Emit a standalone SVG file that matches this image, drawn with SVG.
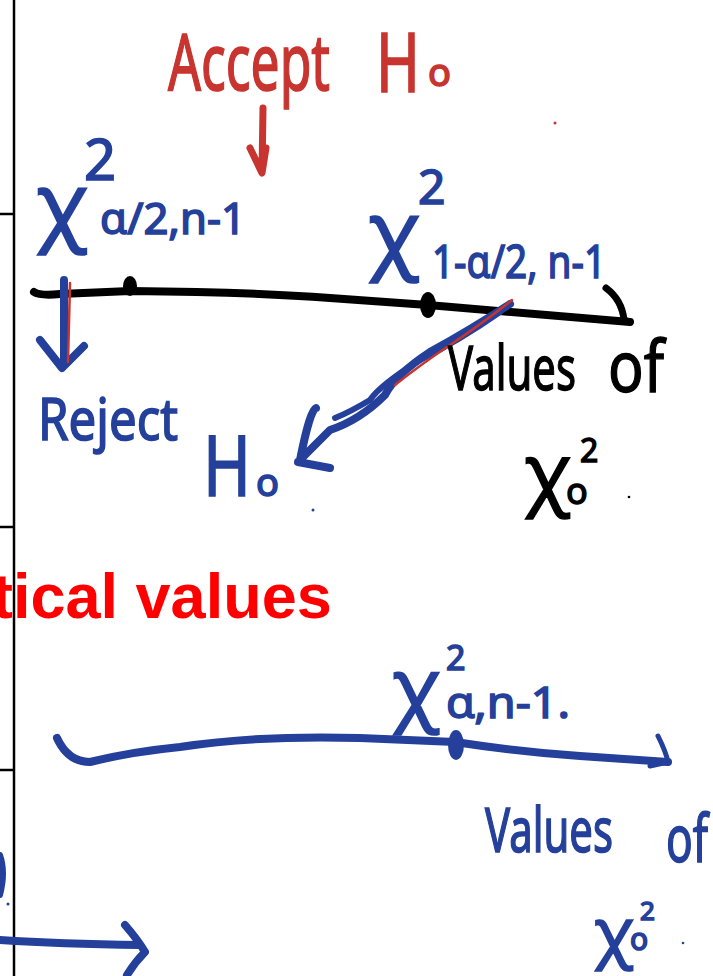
<svg xmlns="http://www.w3.org/2000/svg" width="713" height="976" viewBox="0 0 713 976">
<style>
.frame{stroke:#000;stroke-width:2.5;fill:none}
.blue{fill:#24409a;stroke:#24409a;stroke-width:1.6}
.red{fill:#c8342f;stroke:#c8342f;stroke-width:1.6}
.blk{fill:#000;stroke:#000;stroke-width:1.4}
.hw{font-family:"Noto Sans","DejaVu Sans",sans-serif}
.sb{stroke:#24409a;fill:none;stroke-linecap:round;stroke-linejoin:round}
.sr{stroke:#c8342f;fill:none;stroke-linecap:round;stroke-linejoin:round}
.sk{stroke:#000;fill:none;stroke-linecap:round;stroke-linejoin:round}
</style>
<rect width="713" height="976" fill="#fff"/>
<g id="frame">
<line class="frame" x1="14" y1="0" x2="14" y2="976"/>
<line class="frame" x1="0" y1="214" x2="14" y2="214"/>
<line class="frame" x1="0" y1="527" x2="14" y2="527"/>
<line class="frame" x1="0" y1="770" x2="14" y2="770"/>
</g>
<g id="accept">
<text class="hw red" x="168" y="90" font-size="78" textLength="162" lengthAdjust="spacingAndGlyphs">Accept</text>
<text class="hw red" x="376" y="92" font-size="82" textLength="44" lengthAdjust="spacingAndGlyphs">H</text>
<text class="hw red" x="428" y="86" font-size="38">o</text>
<path class="sr" stroke-width="7" d="M263 108 L262 172 M250 148 L262 173 L266 148"/>
<circle cx="555" cy="123" r="1.5" fill="#c8342f"/>
</g>
<g id="upper-axis">
<path class="sk" stroke-width="8" d="M34 292 Q40 296 60 294 L130 291 Q250 292 330 298 L428 305 L630 322"/>
<path class="sk" stroke-width="7" d="M606 288 Q622 300 624 320 L630 322"/>
<ellipse cx="130" cy="286" rx="7" ry="10" fill="#000"/>
<ellipse cx="428" cy="305" rx="8" ry="13" fill="#000"/>
</g>
<g id="crit-low">
<text class="hw blue" x="36" y="234" font-size="86">χ</text>
<text class="hw blue" x="84" y="180" font-size="56">2</text>
<text class="hw blue" x="100" y="234" font-size="44" textLength="146" lengthAdjust="spacingAndGlyphs">α/2,n-1</text>
</g>
<g id="crit-high">
<text class="hw blue" x="368" y="262" font-size="86">χ</text>
<text class="hw blue" x="418" y="204" font-size="48">2</text>
<text class="hw blue" x="432" y="278" font-size="46" textLength="174" lengthAdjust="spacingAndGlyphs">1-α/2, n-1</text>
</g>
<g id="reject">
<path class="sb" stroke-width="8" d="M64 280 L64 362 M40 340 L62 368 L84 346"/>
<path class="sr" stroke-width="2.5" d="M70 283 L68 362"/>
<text class="hw blue" x="38" y="440" font-size="58" textLength="140" lengthAdjust="spacingAndGlyphs">Reject</text>
<text class="hw blue" x="203" y="496" font-size="84" textLength="48" lengthAdjust="spacingAndGlyphs">H</text>
<text class="hw blue" x="256" y="496" font-size="38">o</text>
<circle cx="313" cy="510" r="1.5" fill="#24409a"/>
<path class="sb" stroke-width="8" d="M510 304 Q470 330 430 352 Q395 375 385 395 Q360 420 330 430 L300 460 M300 460 Q310 410 316 408 M298 462 L330 468"/>
<path class="sb" stroke-width="6" d="M500 312 Q460 340 420 360 Q380 385 370 400 Q350 412 335 418"/>
<path class="sr" stroke-width="2.5" d="M512 300 Q480 325 450 345 Q420 365 395 385"/>
</g>
<g id="values-upper">
<text class="hw blk" x="448" y="390" font-size="62" textLength="128" lengthAdjust="spacingAndGlyphs">Values</text>
<text class="hw blk" x="608" y="392" font-size="72" textLength="56" lengthAdjust="spacingAndGlyphs">of</text>
<text class="hw blk" x="524" y="500" font-size="78">χ</text>
<text class="hw blk" x="566" y="504" font-size="36">o</text>
<text class="hw blk" x="580" y="462" font-size="32">2</text>
<circle cx="629" cy="497" r="1.3" fill="#000"/>
</g>
<g id="title">
<text x="-8" y="618" font-family="Liberation Sans, Arial, sans-serif" font-weight="bold" font-size="63" fill="#ff0000">tical values</text>
</g>
<g id="lower-axis">
<path class="sb" stroke-width="8" d="M57 738 Q68 762 90 762 Q130 752 180 747 Q260 735 360 738 L455 742 Q520 752 580 756 L668 762"/>
<path class="sb" stroke-width="5" d="M658 736 Q666 752 668 762 L650 766"/>
<ellipse cx="456" cy="745" rx="8" ry="15" fill="#24409a"/>
<text class="hw blue" x="392" y="716" font-size="80">χ</text>
<text class="hw blue" x="446" y="670" font-size="34">2</text>
<text class="hw blue" x="446" y="718" font-size="44" textLength="124" lengthAdjust="spacingAndGlyphs">α,n-1.</text>
</g>
<g id="values-lower">
<text class="hw blue" x="485" y="852" font-size="62" textLength="128" lengthAdjust="spacingAndGlyphs">Values</text>
<text class="hw blue" x="666" y="862" font-size="66" textLength="42" lengthAdjust="spacingAndGlyphs">of</text>
<text class="hw blue" x="594" y="955" font-size="66">χ</text>
<text class="hw blue" x="630" y="950" font-size="30">o</text>
<text class="hw blue" x="640" y="920" font-size="26">2</text>
<circle cx="683" cy="943" r="1.3" fill="#24409a"/>
</g>
<g id="left-bottom">
<path class="sb" stroke-width="6" d="M0 855 Q6 872 0 895"/>
<circle cx="8" cy="904" r="1.5" fill="#24409a"/>
<path class="sb" stroke-width="8" d="M0 940 Q60 944 140 945 M125 925 Q138 940 145 952 Q135 962 127 975"/>
</g>
</svg>
